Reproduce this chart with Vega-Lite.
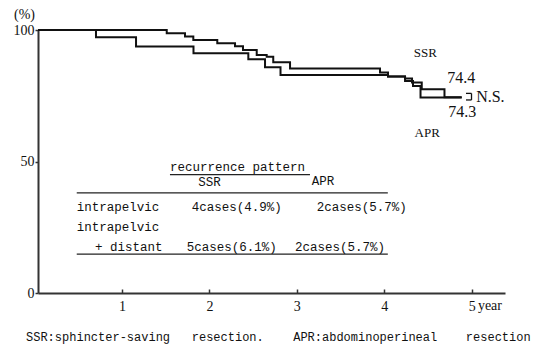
{
  "$schema": "https://vega.github.io/schema/vega-lite/v6.json",
  "width": 467,
  "height": 263,
  "autosize": {"type": "none"},
  "padding": {"left": 38, "top": 30, "right": 34, "bottom": 61},
  "background": "white",
  "config": {"view": {"stroke": null}},
  "datasets": {
    "curves": [
      {"group": "SSR", "t": 0.04, "s": 100},
      {"group": "SSR", "t": 1.512, "s": 98.8},
      {"group": "SSR", "t": 1.721, "s": 97.5},
      {"group": "SSR", "t": 1.816, "s": 96.2},
      {"group": "SSR", "t": 2.09, "s": 95.0},
      {"group": "SSR", "t": 2.293, "s": 93.8},
      {"group": "SSR", "t": 2.384, "s": 92.4},
      {"group": "SSR", "t": 2.541, "s": 90.5},
      {"group": "SSR", "t": 2.655, "s": 89.8},
      {"group": "SSR", "t": 2.73, "s": 87.7},
      {"group": "SSR", "t": 2.922, "s": 85.4},
      {"group": "SSR", "t": 3.951, "s": 83.8},
      {"group": "SSR", "t": 4.042, "s": 82.3},
      {"group": "SSR", "t": 4.237, "s": 81.6},
      {"group": "SSR", "t": 4.317, "s": 80.0},
      {"group": "SSR", "t": 4.428, "s": 77.5},
      {"group": "SSR", "t": 4.688, "s": 74.4},
      {"group": "SSR", "t": 4.885, "s": 74.4},
      {"group": "APR", "t": 0.04, "s": 100},
      {"group": "APR", "t": 0.703, "s": 97.2},
      {"group": "APR", "t": 1.161, "s": 93.7},
      {"group": "APR", "t": 1.818, "s": 91.2},
      {"group": "APR", "t": 2.445, "s": 88.9},
      {"group": "APR", "t": 2.636, "s": 85.8},
      {"group": "APR", "t": 2.813, "s": 82.9},
      {"group": "APR", "t": 4.042, "s": 82.3},
      {"group": "APR", "t": 4.237, "s": 80.6},
      {"group": "APR", "t": 4.328, "s": 78.7},
      {"group": "APR", "t": 4.414, "s": 74.3},
      {"group": "APR", "t": 4.885, "s": 74.3}
    ],
    "labels": [
      {"label": "SSR", "x": 4.47, "y": 91.3, "size": "small"},
      {"label": "APR", "x": 4.49, "y": 60.7, "size": "small"},
      {"label": "74.4", "x": 4.88, "y": 81.9, "size": "big"},
      {"label": "74.3", "x": 4.89, "y": 68.9, "size": "big"}
    ],
    "ns": [
      {"label": "N.S.", "x": 5.05, "y": 74.4}
    ],
    "bracket": [
      {"x1": 4.934, "x2": 4.997, "y1": 75.9, "y2": 75.9},
      {"x1": 4.934, "x2": 4.997, "y1": 73.4, "y2": 73.4},
      {"x1": 4.997, "x2": 4.997, "y1": 75.9, "y2": 73.4}
    ],
    "tableText": [
      {"label": "recurrence pattern", "x": 1.549, "y": 47.8},
      {"label": "intrapelvic", "x": 0.483, "y": 32.6},
      {"label": "4cases(4.9%)", "x": 1.798, "y": 32.6},
      {"label": "2cases(5.7%)", "x": 3.227, "y": 32.6},
      {"label": "intrapelvic", "x": 0.483, "y": 25.2},
      {"label": "+ distant", "x": 0.692, "y": 17.6},
      {"label": "5cases(6.1%)", "x": 1.741, "y": 17.6},
      {"label": "2cases(5.7%)", "x": 2.979, "y": 17.6}
    ],
    "tableHead": [
      {"label": "SSR", "x": 2.0, "y": 42.2},
      {"label": "APR", "x": 3.3, "y": 42.6}
    ],
    "tableRules": [
      {"x1": 1.549, "x2": 3.15, "y1": 45.0, "y2": 45.0},
      {"x1": 0.483, "x2": 4.04, "y1": 38.1, "y2": 38.1},
      {"x1": 0.483, "x2": 4.04, "y1": 14.8, "y2": 14.8}
    ],
    "foot": [
      {"label": "SSR:sphincter-saving", "x": -0.097, "y": -16.7},
      {"label": "resection.", "x": 1.798, "y": -16.7},
      {"label": "APR:abdominoperineal", "x": 2.958, "y": -16.7},
      {"label": "resection", "x": 4.932, "y": -16.7}
    ],
    "unit": [
      {"label": "year", "x": 5.07, "y": -5.0}
    ]
  },
  "layer": [
    {
      "data": {"name": "curves"},
      "mark": {"type": "line", "interpolate": "step-after", "color": "#111", "strokeWidth": 2},
      "encoding": {
        "x": {
          "field": "t", "type": "quantitative",
          "scale": {"domain": [0.04, 5.38], "nice": false, "zero": false},
          "axis": {
            "values": [1, 2, 3, 4, 5], "format": "d", "title": null, "grid": false,
            "labelFont": "Liberation Serif", "labelFontSize": 14, "labelColor": "#111",
            "domainColor": "#333", "domainWidth": 2, "tickColor": "#333", "tickWidth": 1.5,
            "tickSize": -4, "labelPadding": 10
          }
        },
        "y": {
          "field": "s", "type": "quantitative",
          "scale": {"domain": [0, 100], "nice": false},
          "axis": {
            "values": [0, 50, 100], "grid": false,
            "labelFont": "Liberation Serif", "labelFontSize": 14, "labelColor": "#111",
            "domainColor": "#333", "domainWidth": 2, "tickColor": "#333", "tickWidth": 1.5,
            "tickSize": 3, "labelPadding": 1,
            "title": "(%)", "titleAngle": 0, "titleX": -14, "titleY": -16,
            "titleAlign": "center", "titleBaseline": "middle",
            "titleFont": "Liberation Serif", "titleFontSize": 14, "titleFontWeight": "normal", "titleColor": "#111"
          }
        },
        "detail": {"field": "group"}
      }
    },
    {
      "data": {"name": "labels"},
      "transform": [{"filter": "datum.size == 'small'"}],
      "mark": {"type": "text", "font": "Liberation Serif", "fontSize": 13, "align": "center", "baseline": "middle", "color": "#111"},
      "encoding": {"x": {"field": "x", "type": "quantitative"}, "y": {"field": "y", "type": "quantitative"}, "text": {"field": "label"}}
    },
    {
      "data": {"name": "labels"},
      "transform": [{"filter": "datum.size == 'big'"}],
      "mark": {"type": "text", "font": "Liberation Serif", "fontSize": 16, "align": "center", "baseline": "middle", "color": "#111"},
      "encoding": {"x": {"field": "x", "type": "quantitative"}, "y": {"field": "y", "type": "quantitative"}, "text": {"field": "label"}}
    },
    {
      "data": {"name": "ns"},
      "mark": {"type": "text", "font": "Liberation Serif", "fontSize": 16, "align": "left", "baseline": "middle", "color": "#111"},
      "encoding": {"x": {"field": "x", "type": "quantitative"}, "y": {"field": "y", "type": "quantitative"}, "text": {"field": "label"}}
    },
    {
      "data": {"name": "bracket"},
      "mark": {"type": "rule", "color": "#111", "strokeWidth": 1.3},
      "encoding": {
        "x": {"field": "x1", "type": "quantitative"}, "x2": {"field": "x2"},
        "y": {"field": "y1", "type": "quantitative"}, "y2": {"field": "y2"}
      }
    },
    {
      "data": {"name": "tableText"},
      "mark": {"type": "text", "font": "Liberation Mono", "fontSize": 12.5, "align": "left", "baseline": "middle", "color": "#111"},
      "encoding": {"x": {"field": "x", "type": "quantitative"}, "y": {"field": "y", "type": "quantitative"}, "text": {"field": "label"}}
    },
    {
      "data": {"name": "tableHead"},
      "mark": {"type": "text", "font": "Liberation Mono", "fontSize": 12.5, "align": "center", "baseline": "middle", "color": "#111"},
      "encoding": {"x": {"field": "x", "type": "quantitative"}, "y": {"field": "y", "type": "quantitative"}, "text": {"field": "label"}}
    },
    {
      "data": {"name": "tableRules"},
      "mark": {"type": "rule", "color": "#222", "strokeWidth": 1.3},
      "encoding": {
        "x": {"field": "x1", "type": "quantitative"}, "x2": {"field": "x2"},
        "y": {"field": "y1", "type": "quantitative"}, "y2": {"field": "y2"}
      }
    },
    {
      "data": {"name": "foot"},
      "mark": {"type": "text", "font": "Liberation Mono", "fontSize": 12, "align": "left", "baseline": "middle", "color": "#111"},
      "encoding": {"x": {"field": "x", "type": "quantitative"}, "y": {"field": "y", "type": "quantitative"}, "text": {"field": "label"}}
    },
    {
      "data": {"name": "unit"},
      "mark": {"type": "text", "font": "Liberation Serif", "fontSize": 14, "align": "left", "baseline": "middle", "color": "#111"},
      "encoding": {"x": {"field": "x", "type": "quantitative"}, "y": {"field": "y", "type": "quantitative"}, "text": {"field": "label"}}
    }
  ]
}
